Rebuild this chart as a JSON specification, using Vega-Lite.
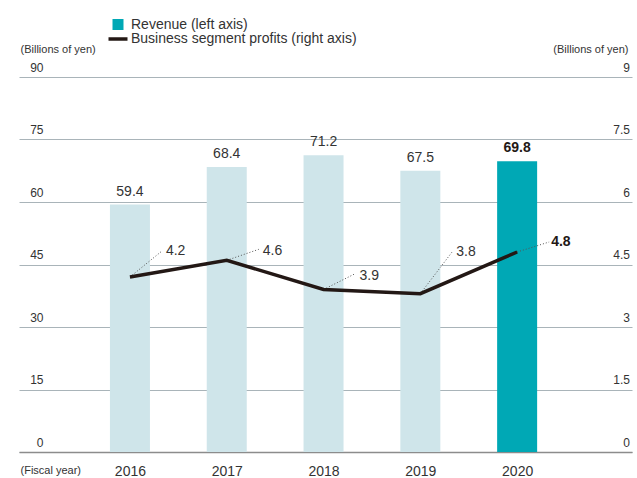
{
  "$schema": "https://vega.github.io/schema/vega-lite/v6.json",
  "width": 613,
  "height": 375,
  "autosize": "none",
  "padding": {"left": 19, "top": 77, "right": 5, "bottom": 26},
  "background": "white",
  "config": {
    "font": "Liberation Sans",
    "view": {"stroke": null},
    "axis": {"labelColor": "#333333", "titleColor": "#333333", "titleFontWeight": "normal", "labelFlush": false, "labelOverlap": false, "labelBound": false}
  },
  "data": {
    "values": [
      {"year": 2016, "revenue": 59.4, "profit": 4.2},
      {"year": 2017, "revenue": 68.4, "profit": 4.6},
      {"year": 2018, "revenue": 71.2, "profit": 3.9},
      {"year": 2019, "revenue": 67.5, "profit": 3.8},
      {"year": 2020, "revenue": 69.8, "profit": 4.8}
    ]
  },
  "encoding": {
    "x": {"field": "year", "type": "quantitative", "scale": {"domain": [2014.9055, 2021.135], "nice": false, "zero": false},
      "axis": {"values": [2016, 2017, 2018, 2019, 2020], "format": "d", "grid": false, "ticks": false, "tickSize": 0,
        "domainColor": "#8c8c8c", "domainWidth": 1.5, "labelFontSize": 14, "labelBaseline": "alphabetic", "labelPadding": 23.5,
        "title": "(Fiscal year)", "titleFontSize": 11, "titleAnchor": "start", "titleAlign": "left", "titleBaseline": "alphabetic", "titleX": 1, "titleY": 21}}
  },
  "layer": [
    {
      "encoding": {
        "y": {"field": "revenue", "type": "quantitative", "scale": {"domain": [0, 90], "nice": false},
          "axis": {"orient": "left", "values": [0, 15, 30, 45, 60, 75, 90], "format": "d", "grid": true, "gridColor": "#a9b4b9", "gridWidth": 1,
            "domain": false, "ticks": false, "labelAlign": "right", "labelPadding": -24, "labelBaseline": "alphabetic", "labelOffset": -6, "labelFontSize": 12,
            "title": "(Billions of yen)", "titleFontSize": 11, "titleAngle": 0, "titleAlign": "left", "titleBaseline": "alphabetic", "titleX": 1, "titleY": -25}}
      },
      "layer": [
        {
          "mark": {"type": "bar", "width": 40},
          "encoding": {
            "color": {"condition": {"test": "datum.year == 2020", "value": "#00a8b5"}, "value": "#cfe5ea"}
          }
        },
        {
          "transform": [{"filter": "datum.year != 2020"}],
          "mark": {"type": "text", "baseline": "alphabetic", "align": "center", "dy": -9, "fontSize": 14, "color": "#333333"},
          "encoding": {"text": {"field": "revenue", "type": "quantitative", "format": ".1f"}}
        },
        {
          "transform": [{"filter": "datum.year == 2020"}],
          "mark": {"type": "text", "baseline": "alphabetic", "align": "center", "dy": -9, "fontSize": 14, "fontWeight": "bold", "color": "#231815"},
          "encoding": {"text": {"field": "revenue", "type": "quantitative", "format": ".1f"}}
        }
      ]
    },
    {
      "encoding": {
        "y": {"field": "profit", "type": "quantitative", "scale": {"domain": [0, 9], "nice": false},
          "axis": {"orient": "right", "values": [0, 1.5, 3, 4.5, 6, 7.5, 9], "format": ".1~f", "grid": false,
            "domain": false, "ticks": false, "labelAlign": "right", "labelPadding": -2.5, "labelBaseline": "alphabetic", "labelOffset": -6, "labelFontSize": 12,
            "title": "(Billions of yen)", "titleFontSize": 11, "titleAngle": 0, "titleAlign": "right", "titleBaseline": "alphabetic", "titleX": -4, "titleY": -25}}
      },
      "layer": [
        {
          "mark": {"type": "rule", "strokeDash": [1, 2], "strokeWidth": 1, "color": "#555555", "x2Offset": 32,
            "y2Offset": {"expr": "datum.year == 2016 ? -26 : datum.year == 2017 ? -11 : datum.year == 2018 ? -16 : datum.year == 2019 ? -42 : -10"}},
          "encoding": {"x2": {"field": "year"}, "y2": {"field": "profit"}}
        },
        {
          "mark": {"type": "line", "strokeWidth": 3.5},
          "encoding": {
            "color": {"datum": "Business segment profits (right axis)", "type": "nominal",
              "scale": {"domain": ["Revenue (left axis)", "Business segment profits (right axis)"], "range": ["#00a8b5", "#231815"]},
              "legend": {"title": null, "orient": "none", "direction": "vertical", "legendX": 92, "legendY": -59.5, "padding": 0, "rowPadding": 0.5,
                "labelFontSize": 14, "labelColor": "#333333", "labelOffset": 6, "labelLimit": 500, "symbolStrokeWidth": 3.5,
                "encode": {"symbols": {"update": {
                  "shape": {"signal": "datum.value === 'Revenue (left axis)' ? 'square' : 'M-1,0H1'"},
                  "size": {"signal": "datum.value === 'Revenue (left axis)' ? 121 : 361"},
                  "fill": {"signal": "datum.value === 'Revenue (left axis)' ? '#00a8b5' : 'transparent'"},
                  "stroke": {"signal": "datum.value === 'Revenue (left axis)' ? 'transparent' : '#231815'"},
                  "strokeWidth": {"signal": "datum.value === 'Revenue (left axis)' ? 0 : 3.5"},
                  "opacity": {"value": 1}
                }}}}
            }
          }
        },
        {
          "transform": [{"filter": "datum.year != 2020"}],
          "mark": {"type": "text", "align": "left", "baseline": "middle", "dx": 36, "fontSize": 14, "color": "#333333",
            "dy": {"expr": "datum.year == 2016 ? -26 : datum.year == 2017 ? -9 : datum.year == 2018 ? -14 : -42"}},
          "encoding": {"text": {"field": "profit", "type": "quantitative", "format": ".1f"}}
        },
        {
          "transform": [{"filter": "datum.year == 2020"}],
          "mark": {"type": "text", "align": "left", "baseline": "middle", "dx": 34, "dy": -10, "fontSize": 14, "fontWeight": "bold", "color": "#231815"},
          "encoding": {"text": {"field": "profit", "type": "quantitative", "format": ".1f"}}
        }
      ]
    }
  ],
  "resolve": {"scale": {"y": "independent"}}
}
